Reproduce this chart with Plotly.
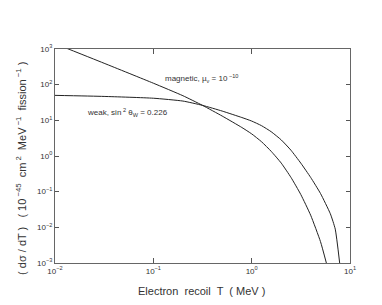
import plotly.graph_objects as go

# Data
mag_T = [0.01, 0.0316, 0.1, 0.2, 0.316, 0.501, 0.794, 1.0, 1.26, 1.58, 2.0, 2.51, 3.16, 3.98, 5.01, 5.75]
mag_y = [1413, 398, 110, 49, 26.3, 13.2, 6.31, 4.17, 2.51, 1.35, 0.631, 0.251, 0.0832, 0.0219, 0.00398, 0.001]

weak_T = [0.01, 0.0316, 0.1, 0.2, 0.316, 0.501, 0.794, 1.0, 1.26, 1.58, 2.0, 2.51, 3.16, 3.98, 5.01, 6.31, 7.08, 7.85]
weak_y = [50.1, 46.8, 41.7, 34.7, 26.3, 18.2, 12.0, 9.55, 7.08, 4.79, 2.82, 1.45, 0.631, 0.251, 0.0891, 0.024, 0.00891, 0.001]

x_tickvals = [0.01, 0.1, 1, 10]
x_ticktext = ["10<sup>−2</sup>", "10<sup>−1</sup>", "10<sup>0</sup>", "10<sup>1</sup>"]
y_tickvals = [0.001, 0.01, 0.1, 1, 10, 100, 1000]
y_ticktext = ["10<sup>−3</sup>", "10<sup>−2</sup>", "10<sup>−1</sup>", "10<sup>0</sup>",
              "10<sup>1</sup>", "10<sup>2</sup>", "10<sup>3</sup>"]

LINE = "#222222"
TXT = "#333333"
FONT = "Liberation Sans, Arial, sans-serif"

fig = go.Figure()
fig.add_trace(go.Scatter(x=mag_T, y=mag_y, mode="lines",
                         line=dict(color=LINE, width=1, shape="spline", smoothing=0.5),
                         showlegend=False, hoverinfo="skip"))
fig.add_trace(go.Scatter(x=weak_T, y=weak_y, mode="lines",
                         line=dict(color=LINE, width=1, shape="spline", smoothing=0.5),
                         showlegend=False, hoverinfo="skip"))

fig.update_layout(
    width=382, height=305,
    margin=dict(l=47, r=40, t=41, b=50),
    paper_bgcolor="white", plot_bgcolor="white",
    font=dict(family=FONT, color=TXT, size=8),
    xaxis=dict(type="log", range=[-2, 1], tickvals=x_tickvals, ticktext=x_ticktext,
               showgrid=False, zeroline=False, showline=True, linecolor="#666666", linewidth=1,
               mirror="ticks", ticks="inside", ticklen=5, tickcolor="#555555",
               tickfont=dict(size=8, color=TXT)),
    yaxis=dict(type="log", range=[-3, 3], tickvals=y_tickvals, ticktext=y_ticktext,
               showgrid=False, zeroline=False, showline=True, linecolor="#666666", linewidth=1,
               mirror="ticks", ticks="inside", ticklen=4, tickcolor="#555555",
               tickfont=dict(size=8, color=TXT)),
    annotations=[
        dict(text="Electron  recoil  T  ( MeV )", xref="paper", yref="paper", x=0.497, y=-0.13,
             xanchor="center", yanchor="middle", showarrow=False, font=dict(size=11, color=TXT)),
        dict(text="( dσ / dT )   ( 10<sup> −45</sup>  cm<sup> 2</sup>  MeV<sup> −1</sup>  fission<sup> −1</sup> )",
             xref="paper", yref="paper", x=-0.115, y=0.44, textangle=-90,
             xanchor="center", yanchor="middle", showarrow=False, font=dict(size=11, color=TXT)),
        dict(text="magnetic, μ<sub>ν</sub> = 10<sup> −10</sup>", xref="paper", yref="paper", x=0.365, y=0.86,
             xanchor="left", yanchor="middle", showarrow=False, font=dict(size=8, color=TXT)),
        dict(text="weak, sin<sup> 2</sup> θ<sub>W</sub> = 0.226", xref="paper", yref="paper", x=0.10, y=0.705,
             xanchor="left", yanchor="middle", showarrow=False, font=dict(size=8, color=TXT)),
    ],
)

fig.write_html("out.html")
